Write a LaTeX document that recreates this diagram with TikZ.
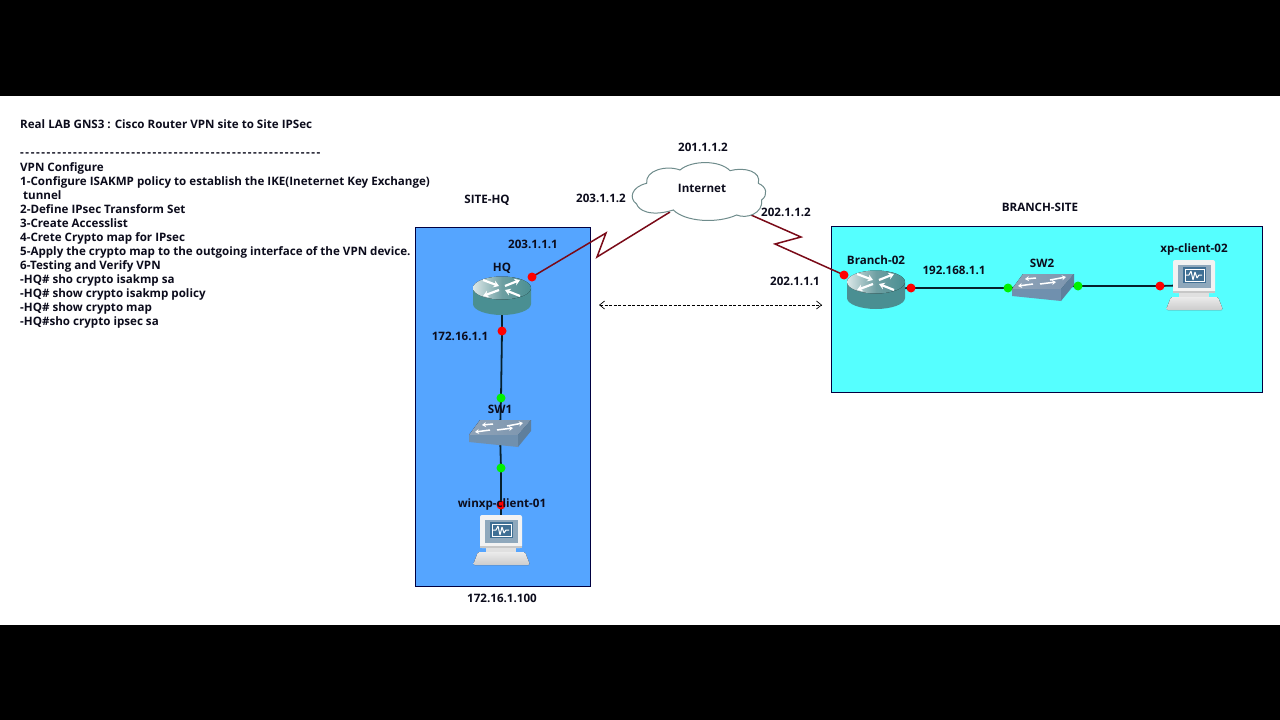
\documentclass[tikz,border=0pt]{standalone}
\usepackage{fontspec}
\setmainfont{Open Sans}
\usetikzlibrary{arrows.meta}
\pgfdeclarelayer{zones}\pgfdeclarelayer{links}
\pgfsetlayers{zones,links,main}
\definecolor{hqblue}{HTML}{55A5FF}
\definecolor{brcyan}{HTML}{55FFFF}
\definecolor{wan}{HTML}{7A0A18}
\definecolor{lan}{HTML}{06202C}
\definecolor{rbody}{HTML}{4A8F92}
\definecolor{rtop}{HTML}{6E9FA2}
\definecolor{ink}{HTML}{0C0C1C}
\definecolor{swtop}{HTML}{8FA3B8}
\definecolor{swtopb}{HTML}{7C95AE}
\definecolor{swfront}{HTML}{7090AE}
\definecolor{swside}{HTML}{5F7F9C}
\definecolor{scrn}{HTML}{3F6F94}
\definecolor{scrnb}{HTML}{8FA8BC}
\definecolor{cloudline}{HTML}{6F8C8C}
\def\dd{-\kern1.56pt}
\def\ddd{\dd\dd\dd\dd\dd\dd\dd\dd\dd\dd}
\tikzset{
  lbl/.style={font=\fontsize{11.6}{14}\selectfont\bfseries,text=ink,inner sep=0pt},
  txt/.style={font=\fontsize{11.6}{14}\selectfont\bfseries,text=ink,inner sep=0pt,anchor=north west,align=left},
  zone/.style={draw=black!75!blue,line width=0.8pt},
  wanlink/.style={draw=wan,line width=1.5pt,line join=miter},
  lanlink/.style={draw=lan,line width=1.8pt},
  ifup/.style={circle,fill=red,draw=none,minimum size=9pt,inner sep=0pt},
  ifsw/.style={circle,fill=green!95!black,draw=none,minimum size=9pt,inner sep=0pt},
  dev/.style={inner sep=0pt,minimum size=10pt},
  rarrow/.style={draw=white,line width=2.2pt,-{Stealth[length=5.5pt,width=7pt]}},
  swarrow/.style={draw=white,line width=1.5pt,-{Stealth[length=4pt,width=5pt]}},
  routerpic/.pic={
    \fill[rbody] (-29,0) -- (-29,16) arc[x radius=29,y radius=11,start angle=180,end angle=0] -- (29,0) -- cycle;
    \fill[left color=rtop!25!white,right color=rbody,middle color=rtop] (0,0) ellipse[x radius=29,y radius=11.5];
    \draw[rarrow] (-19,-8) -- (-3,-2);
    \draw[rarrow] (3,-2) -- (18,-8);
    \draw[rarrow] (-3,2) -- (-19,8);
    \draw[rarrow] (18,8) -- (3,2);
  },
  switchpic/.pic={
    \fill[left color=swtop,right color=swtopb] (-20,-13) -- (31,-13) -- (18,2) -- (-31,2) -- cycle;
    \fill[swfront] (-31,2) -- (18,2) -- (18,14) -- (-31,9) -- cycle;
    \fill[swside] (18,2) -- (31,-13) -- (31,-2) -- (18,14) -- cycle;
    \draw[swarrow] (-7,-9) -- (-18,-8);
    \draw[swarrow] (7,-7) -- (23,-10);
    \draw[swarrow] (-10,-3) -- (-25,-1);
    \draw[swarrow] (-3,-3) -- (13,-5);
  },
  pcpic/.pic={
    \fill[black!5,rounded corners=2pt] (-21,-25) rectangle (21,8);
    \fill[black!22] (-21,6) rectangle (21,8);
    \fill[scrnb] (-16,-20) rectangle (17,3);
    \fill[scrn] (-11,-18) rectangle (12,-2);
    \draw[white,line width=1pt,line join=bevel] (-8,-10) -- (-5,-10) -- (-3,-14) -- (-1,-5) -- (1,-13) -- (3,-7) -- (5,-10) -- (8,-10);
    \draw[white,line width=0.8pt] (-9,-16) rectangle (10,-4);
    \fill[black!12] (-15,8) rectangle (15,12);
    \fill[top color=black!8,bottom color=black!20,rounded corners=1.5pt] (-23,12) -- (24,12) -- (29,25) -- (-28,25) -- cycle;
  }
}
\begin{document}
\begin{tikzpicture}[x=1pt,y=-1pt]
\useasboundingbox (0,0) rectangle (1280,720);
\begin{pgfonlayer}{zones}
\fill[white] (0,0) rectangle (1280,720);
\fill[black] (0,0) rectangle (1280,96);
\fill[black] (0,625) rectangle (1280,720);
\filldraw[zone,fill=hqblue] (415,227) rectangle (590,586);
\filldraw[zone,fill=brcyan] (831,226) rectangle (1262,392);
\end{pgfonlayer}

% devices
\node[dev] (HQ) at (502,295) {};
\pic at (502,288) {routerpic};
\node[dev] (SW1) at (500,433) {};
\pic at (500,433) {switchpic};
\node[dev] (PC1) at (501,540) {};
\pic at (501,540) {pcpic};
\node[dev] (BR) at (876,289) {};
\pic at (876,282) {routerpic};
\node[dev] (SW2) at (1043,287) {};
\pic at (1043,287) {switchpic};
\node[dev] (PC2) at (1194,285) {};
\pic at (1194,285) {pcpic};

% cloud
\begin{scope}[shift={(570,130)},x=0.3333pt,y=-0.3333pt]
\filldraw[draw=cloudline,line width=1pt,fill=white]
 (310,240) .. controls (240,262) and (205,240) .. (200,222)
 .. controls (175,205) and (185,170) .. (230,160)
 .. controls (225,120) and (290,105) .. (330,120)
 .. controls (365,90) and (450,90) .. (480,122)
 .. controls (525,110) and (575,125) .. (565,160)
 .. controls (590,170) and (595,195) .. (575,210)
 .. controls (580,250) and (530,268) .. (500,255)
 .. controls (440,282) and (345,275) .. (310,240) -- cycle;
\end{scope}
\node[lbl] (cloud) at (702,188) {Internet};

% interfaces
\node[ifup] (hqw) at (532,277) {};
\node[ifup] (hql) at (502,331) {};
\node[ifsw] (s1a) at (501,398) {};
\node[ifsw] (s1b) at (501,468) {};
\node[ifup] (pc1i) at (501,505) {};
\node[ifup] (brw) at (844,275) {};
\node[ifup] (brl) at (911,288) {};
\node[ifsw] (s2a) at (1008,288) {};
\node[ifsw] (s2b) at (1078,286) {};
\node[ifup] (pc2i) at (1160,286) {};

\coordinate (z1a) at (606,233);
\coordinate (z1b) at (597,257);
\coordinate (cl) at (670,212);
\coordinate (cr) at (751,215);
\coordinate (z2a) at (801,237);
\coordinate (z2b) at (775,244);
\coordinate (dl) at (599,305);
\coordinate (dr) at (822,305);

\begin{pgfonlayer}{links}
\draw[wanlink] (hqw.center) -- (z1a) -- (z1b) -- (cl);
\draw[wanlink] (cr) -- (z2a) -- (z2b) -- (brw.center);
\draw[lanlink] (HQ.center) -- (hql.center) -- (s1a.center) -- (SW1.center);
\draw[lanlink] (SW1.center) -- (s1b.center) -- (pc1i.center) -- (PC1.center);
\draw[lanlink] (BR.center) -- (brl.center) -- (s2a.center) -- (SW2.center);
\draw[lanlink] (SW2.center) -- (s2b.center) -- (pc2i.center) -- (PC2.center);
\end{pgfonlayer}
\draw[black,line width=0.7pt,dash pattern=on 3pt off 1.6pt,{Straight Barb[length=5pt,width=8pt]}-{Straight Barb[length=5pt,width=8pt]}] (dl) -- (dr);

% text
\node[txt,anchor=west] (title) at (20,124.5) {Real LAB GNS3 : Cisco Router VPN site to Site IPSec};
\node[txt,anchor=west] (rule) at (20,155) {\ddd\ddd\ddd\ddd\ddd\dd\dd\dd\dd\dd\dd\dd};
\node[txt] (steps) at (20,162) {VPN Configure\\
1-Configure ISAKMP policy to establish the IKE(Ineternet Key Exchange)\\
\ tunnel\\
2-Define IPsec Transform Set\\
3-Create Accesslist\\
4-Crete Crypto map for IPsec\\
5-Apply the crypto map to the outgoing interface of the VPN device.\\
6-Testing and Verify VPN\\
-HQ\# sho crypto isakmp sa\\
-HQ\# show crypto isakmp policy\\
-HQ\# show crypto map\\
-HQ\#sho crypto ipsec sa};

\node[lbl] (l1) at (703,147) {201.1.1.2};
\node[lbl] (l2) at (601,198) {203.1.1.2};
\node[lbl] (l3) at (786,212) {202.1.1.2};
\node[lbl] (l4) at (795,281) {202.1.1.1};
\node[lbl] (l5) at (487,200) {SITE-HQ};
\node[lbl] (l6) at (1040,207) {BRANCH-SITE};
\node[lbl] (l7) at (533,244) {203.1.1.1};
\node[lbl] (l8) at (502,268) {HQ};
\node[lbl] (l9) at (460,336) {172.16.1.1};
\node[lbl] (l10) at (500,409) {SW1};
\node[lbl] (l11) at (502,504) {winxp-client-01};
\node[lbl] (l12) at (502,598) {172.16.1.100};
\node[lbl] (l13) at (876,260) {Branch-02};
\node[lbl] (l14) at (954,270) {192.168.1.1};
\node[lbl] (l15) at (1042,263) {SW2};
\node[lbl] (l16) at (1194,249) {xp-client-02};
\end{tikzpicture}
\end{document}
